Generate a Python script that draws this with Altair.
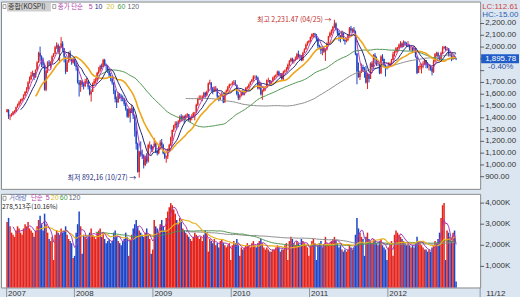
import altair as alt
import pandas as pd
import numpy as np

# ---------------- weekly KOSPI data ----------------
close_2007 = [1470, 1414, 1420, 1425, 1450, 1452, 1490, 1510, 1530, 1545, 1560, 1590, 1620, 1640, 1700, 1730, 1760, 1780, 1743, 1805, 1868, 1950, 1920, 1890, 1850, 1638, 1800, 1870, 1860, 1870, 1920, 1946, 1999, 2015, 1960, 2000, 2030, 1990, 1920, 1790, 1870, 1950, 1900, 1870, 1897]
high_2007 = [1475, 1470, 1430, 1440, 1458, 1465, 1495, 1520, 1545, 1560, 1570, 1600, 1625, 1660, 1710, 1750, 1790, 1800, 1780, 1810, 1880, 1960, 2004, 1930, 1910, 1860, 1810, 1880, 1890, 1880, 1930, 1950, 2010, 2040, 2030, 2010, 2085, 2050, 1990, 1920, 1890, 1960, 1970, 1910, 1905]
low_2007 = [1445, 1390, 1380, 1410, 1420, 1440, 1450, 1485, 1500, 1520, 1540, 1555, 1585, 1610, 1640, 1690, 1720, 1750, 1720, 1740, 1800, 1865, 1880, 1830, 1820, 1630, 1625, 1780, 1840, 1820, 1860, 1915, 1940, 1985, 1940, 1880, 1990, 1960, 1870, 1770, 1790, 1870, 1890, 1850, 1860]
vol_2007 = [3100, 3300, 2900, 2600, 2500, 2400, 2700, 2900, 2800, 2600, 2500, 2800, 3000, 2900, 3100, 2800, 2700, 2600, 2400, 2700, 2900, 3200, 3400, 3000, 2700, 3500, 3000, 2600, 2300, 2200, 2400, 1300, 2500, 2700, 2600, 2500, 2800, 2600, 2700, 2900, 2500, 2300, 2200, 2100, 1400]

close_2008 = [1853, 1830, 1700, 1680, 1711, 1680, 1670, 1710, 1711, 1663, 1600, 1620, 1690, 1710, 1720, 1780, 1800, 1840, 1830, 1890, 1850, 1840, 1800, 1760, 1730, 1700, 1630, 1560, 1530, 1600, 1580, 1570, 1560, 1520, 1474, 1410, 1470, 1440, 1480, 1420, 1290, 1180, 940, 1113, 1090, 1080, 1000, 1070, 1030, 1170, 1170, 1130]
high_2008 = [1900, 1870, 1840, 1720, 1720, 1720, 1700, 1730, 1740, 1720, 1670, 1640, 1700, 1730, 1740, 1790, 1830, 1850, 1860, 1901, 1900, 1860, 1850, 1810, 1780, 1740, 1700, 1640, 1580, 1620, 1610, 1600, 1590, 1570, 1530, 1480, 1480, 1480, 1510, 1490, 1420, 1360, 1190, 1120, 1200, 1130, 1090, 1080, 1100, 1180, 1200, 1175]
low_2008 = [1840, 1800, 1690, 1580, 1620, 1660, 1640, 1660, 1690, 1640, 1590, 1537, 1620, 1680, 1690, 1710, 1770, 1790, 1810, 1830, 1840, 1800, 1780, 1740, 1710, 1680, 1600, 1530, 1483, 1530, 1560, 1540, 1540, 1500, 1460, 1400, 1400, 1360, 1440, 1390, 1240, 1130, 935, 892.16, 1070, 1050, 970, 990, 1010, 1020, 1140, 1110]
vol_2008 = [1500, 2600, 3000, 3600, 2900, 1600, 2500, 2400, 2300, 2500, 2600, 2800, 2500, 2400, 2300, 2600, 2700, 2800, 2400, 2600, 2300, 2100, 2200, 2300, 2100, 2200, 2600, 2700, 2400, 2200, 2100, 2000, 2200, 2300, 2600, 2400, 1500, 2300, 2500, 2800, 3000, 3200, 2900, 2700, 2600, 2500, 2400, 2600, 2800, 2500, 2300, 1600]

close_2009 = [1157, 1180, 1110, 1100, 1160, 1190, 1170, 1100, 1063, 1071, 1127, 1170, 1230, 1297, 1336, 1350, 1340, 1369, 1410, 1390, 1410, 1395, 1420, 1430, 1380, 1400, 1410, 1440, 1440, 1510, 1560, 1570, 1570, 1580, 1610, 1590, 1620, 1690, 1700, 1650, 1630, 1640, 1640, 1580, 1560, 1590, 1600, 1530, 1610, 1630, 1660, 1680, 1682]
high_2009 = [1160, 1230, 1190, 1130, 1170, 1210, 1220, 1180, 1110, 1080, 1140, 1180, 1240, 1300, 1340, 1370, 1370, 1380, 1420, 1430, 1420, 1420, 1430, 1440, 1430, 1410, 1430, 1450, 1450, 1520, 1570, 1590, 1590, 1590, 1620, 1620, 1630, 1700, 1723, 1700, 1660, 1660, 1670, 1650, 1590, 1600, 1620, 1610, 1620, 1640, 1670, 1690, 1690]
low_2009 = [1110, 1150, 1100, 1080, 1090, 1130, 1150, 1090, 1050, 1018, 1050, 1120, 1160, 1200, 1280, 1310, 1300, 1320, 1360, 1370, 1370, 1350, 1380, 1400, 1370, 1360, 1380, 1400, 1378, 1440, 1500, 1550, 1550, 1540, 1570, 1570, 1580, 1620, 1680, 1620, 1600, 1620, 1620, 1560, 1540, 1550, 1580, 1524, 1530, 1600, 1620, 1650, 1670]
vol_2009 = [1800, 3200, 2900, 2800, 2600, 3000, 3200, 2900, 2700, 3300, 3600, 3800, 4000, 3900, 3700, 3500, 3200, 3000, 3300, 3100, 2800, 2700, 2600, 2500, 2400, 2300, 2200, 2400, 2600, 2500, 2400, 2300, 2400, 2200, 2500, 2700, 2600, 1700, 2300, 2200, 2100, 2300, 2000, 2100, 1900, 2200, 2300, 2100, 2000, 1900, 2000, 2100, 1300]

close_2010 = [1695, 1700, 1680, 1602, 1570, 1590, 1620, 1594, 1620, 1655, 1660, 1680, 1705, 1720, 1750, 1750, 1740, 1650, 1690, 1600, 1630, 1660, 1660, 1720, 1720, 1690, 1710, 1740, 1750, 1760, 1790, 1760, 1775, 1730, 1790, 1800, 1810, 1850, 1880, 1900, 1880, 1890, 1900, 1940, 1920, 1930, 1890, 1950, 1980, 2020, 2040, 2051]
high_2010 = [1710, 1720, 1720, 1680, 1620, 1600, 1630, 1640, 1630, 1660, 1670, 1690, 1710, 1730, 1760, 1760, 1760, 1750, 1700, 1690, 1640, 1670, 1670, 1725, 1740, 1720, 1715, 1750, 1760, 1770, 1800, 1800, 1780, 1780, 1800, 1810, 1830, 1860, 1890, 1910, 1910, 1900, 1920, 1950, 1970, 1940, 1930, 1960, 1990, 2030, 2050, 2060]
low_2010 = [1680, 1680, 1670, 1590, 1550, 1552, 1580, 1590, 1590, 1610, 1640, 1650, 1680, 1700, 1710, 1730, 1720, 1640, 1640, 1590, 1552, 1620, 1630, 1660, 1700, 1680, 1680, 1700, 1720, 1740, 1760, 1750, 1740, 1720, 1720, 1780, 1790, 1810, 1840, 1870, 1860, 1860, 1880, 1890, 1910, 1890, 1880, 1880, 1950, 1980, 2010, 2030]
vol_2010 = [2000, 2200, 2100, 2300, 2000, 1500, 1900, 1800, 1900, 2000, 2100, 2000, 1900, 2100, 2200, 2000, 1900, 2100, 2200, 2300, 2100, 1900, 1800, 1900, 1800, 1700, 1700, 1800, 1800, 1900, 2000, 1900, 1700, 1800, 1800, 2000, 2100, 1300, 2200, 2400, 2300, 2100, 2000, 2200, 2100, 2000, 2300, 2200, 2100, 2000, 1900, 1500]

close_2011 = [2086, 2110, 2115, 2107, 2070, 2010, 2000, 1970, 1990, 1960, 1980, 2030, 2090, 2120, 2140, 2170, 2200, 2150, 2120, 2100, 2080, 2120, 2060, 2050, 2060, 2100, 2160, 2140, 2150, 2130, 1943, 1793, 1745, 1790, 1830, 1810, 1800, 1700, 1770, 1730, 1860, 1830, 1930, 1900, 1860, 1870, 1780, 1920, 1900, 1840, 1830, 1826]
high_2011 = [2090, 2115, 2120, 2120, 2110, 2080, 2020, 2010, 2000, 2000, 1990, 2040, 2095, 2130, 2150, 2180, 2231.47, 2210, 2160, 2140, 2100, 2140, 2120, 2070, 2080, 2110, 2170, 2180, 2160, 2170, 2140, 1950, 1870, 1800, 1860, 1850, 1830, 1840, 1780, 1770, 1870, 1880, 1940, 1950, 1920, 1890, 1870, 1930, 1940, 1900, 1850, 1840]
low_2011 = [2040, 2070, 2080, 2080, 2050, 1990, 1980, 1940, 1930, 1950, 1882, 1970, 2020, 2080, 2100, 2120, 2160, 2140, 2100, 2050, 2040, 2080, 2050, 2020, 2040, 2050, 2100, 2120, 2120, 2120, 1930, 1684, 1740, 1720, 1780, 1790, 1740, 1690, 1644, 1700, 1730, 1800, 1820, 1860, 1840, 1840, 1770, 1770, 1880, 1830, 1750, 1810]
vol_2011 = [2000, 2200, 2300, 2100, 1300, 2000, 2100, 2200, 1900, 2000, 2400, 2100, 2000, 2100, 2200, 2300, 2400, 2200, 2100, 1900, 2000, 1800, 1700, 1800, 1700, 1800, 2000, 1900, 1800, 1900, 2500, 3300, 2800, 2600, 2400, 2300, 1500, 2400, 2600, 2300, 2200, 2100, 2300, 2200, 2100, 2000, 2200, 2300, 2000, 1900, 1800, 1300]

close_2012 = [1843, 1860, 1890, 1940, 1960, 1990, 1990, 2020, 2030, 2000, 2040, 2030, 2014, 2020, 1990, 1990, 1980, 1990, 1920, 1780, 1830, 1840, 1850, 1860, 1890, 1850, 1830, 1830, 1820, 1790, 1880, 1940, 1950, 1920, 1900, 1950, 1990, 2000, 1990, 1990, 1930, 1940, 1910, 1920, 1903.4, 1895.78]
high_2012 = [1870, 1870, 1900, 1960, 1970, 2000, 2000, 2030, 2050, 2040, 2057, 2050, 2040, 2050, 2020, 2010, 2000, 2010, 1990, 1920, 1840, 1860, 1860, 1880, 1900, 1890, 1870, 1850, 1850, 1830, 1890, 1950, 1960, 1960, 1930, 1960, 2007, 2010, 2010, 2000, 1990, 1960, 1950, 1930, 1930, 1905]
low_2012 = [1820, 1830, 1850, 1890, 1920, 1950, 1960, 1980, 2000, 1990, 2000, 2010, 2000, 2000, 1970, 1970, 1960, 1950, 1910, 1770, 1780, 1810, 1776, 1820, 1850, 1820, 1820, 1800, 1800, 1760, 1780, 1870, 1920, 1910, 1880, 1880, 1940, 1980, 1970, 1970, 1920, 1920, 1880, 1890, 1900, 1890]
vol_2012 = [1900, 2100, 2200, 1500, 2500, 2700, 2600, 2500, 2400, 2300, 2200, 2100, 2000, 2100, 2000, 1900, 2000, 1900, 2100, 2400, 2200, 2100, 2000, 1900, 1800, 1800, 1700, 1800, 1700, 1900, 2000, 2200, 2100, 2300, 2600, 3300, 3900, 4000, 1300, 2700, 2600, 2400, 2200, 2600, 2700, 278.5]

first_open = 1450

# annotations / header values
ann_labels = ["최고 2,231.47 (04/25) →", "최저 892,16 (10/27) →"]
ann_values = [2231.47, 892.16]
ann_dates = ["2011-04-27", "2008-10-29"]
ann_colors = ["#c0302c", "#1c2c84"]
lc_text = "LC:112.61"
hc_text = "HC:-15.00"
change_text = "-0.40%"
vol_text = "278,513주(10.16%)"
date_text = "11/12"
price_ticks = [900, 1000, 1100, 1200, 1300, 1400, 1500, 1600, 1700, 1800, 1900, 2000, 2100, 2200, 2300]
price_labels = [900, 1000, 1100, 1200, 1300, 1400, 1500, 1600, 1700, 2000, 2100, 2200]
vol_ticks = [1000, 2000, 3000, 4000]
year_dates = ["2007-02-19", "2008-01-01", "2009-01-01", "2010-01-01", "2011-01-01", "2012-01-01"]
year_labels = ["2007", "2008", "2009", "2010", "2011", "2012"]

# ---------------- table ----------------
closes = close_2007 + close_2008 + close_2009 + close_2010 + close_2011 + close_2012
highs = high_2007 + high_2008 + high_2009 + high_2010 + high_2011 + high_2012
lows = low_2007 + low_2008 + low_2009 + low_2010 + low_2011 + low_2012
volumes = vol_2007 + vol_2008 + vol_2009 + vol_2010 + vol_2011 + vol_2012
opens = [first_open] + closes[:-1]
weeks = pd.date_range("2007-02-19", periods=len(closes), freq="7D") + pd.Timedelta(days=2)
df = pd.DataFrame({"date": weeks, "open": opens, "high": highs, "low": lows,
                   "close": closes, "volume": volumes})
df["dir"] = np.where(df["close"] >= df["open"], "up", "down")

RED, BLUE = "#e3231c", "#1d45c6"
VRED, VBLUE = "#d62422", "#2a4cbf"
KFONT = "Noto Sans CJK KR"
NFONT = "Liberation Sans"
GRID = "#d4d4d4"
AXC = "#333333"

W, H1, H2 = 481, 188, 94
x_scale = alt.Scale(domain=[alt.DateTime(year=2007, month=2, date=16),
                            alt.DateTime(year=2013, month=2, date=11)])
year_ticks = [alt.DateTime(year=2007, month=2, date=19)] + [
    alt.DateTime(year=y, month=1, date=1) for y in range(2008, 2013)]
price_scale = alt.Scale(domain=[797, 2386], nice=False, zero=False)
vol_scale = alt.Scale(domain=[0, 4440], nice=False, zero=True)
cscale = alt.Scale(domain=["up", "down"], range=[RED, BLUE])
vcscale = alt.Scale(domain=["up", "down"], range=[VRED, VBLUE])

X0 = alt.X("date:T", scale=x_scale, axis=None)
xgrid_axis = alt.Axis(values=year_ticks, labels=False, ticks=False, domain=False,
                      grid=True, gridColor=GRID, title=None)


def ygrid_axis(vals):
    return alt.Axis(values=vals, labels=False, ticks=False, domain=False,
                    grid=True, gridColor=GRID, title=None)


def label(txt, x, y, color, size=7, font=KFONT, align="left"):
    return alt.Chart(pd.DataFrame({"t": [txt]})).mark_text(
        align=align, baseline="middle", font=font, fontSize=size, color=color).encode(
        x=alt.value(x), y=alt.value(y), text="t:N")


def box(x, x2, y, y2, fill, stroke=None):
    kw = {"color": fill}
    if stroke:
        kw = {"fill": fill, "stroke": stroke, "strokeWidth": 0.8}
    return alt.Chart(pd.DataFrame({"a": [0]})).mark_rect(**kw).encode(
        x=alt.value(x), x2=alt.value(x2), y=alt.value(y), y2=alt.value(y2))


def axis_labels(vals, scale, fmt_expr, x=486):
    return alt.Chart(pd.DataFrame({"v": vals})).transform_calculate(t=fmt_expr).mark_text(
        align="left", baseline="middle", font=NFONT, fontSize=8, color=AXC).encode(
        x=alt.value(x), y=alt.Y("v:Q", scale=scale, axis=None), text="t:N")


def axis_ticks(vals, scale):
    return alt.Chart(pd.DataFrame({"v": vals})).mark_rule(color="#556070", strokeWidth=1).encode(
        x=alt.value(481), x2=alt.value(485), y=alt.Y("v:Q", scale=scale, axis=None))


# ---------------- price panel ----------------
base = alt.Chart(df)

wick = base.mark_rule(strokeWidth=1).encode(
    x=alt.X("date:T", scale=x_scale, axis=xgrid_axis),
    y=alt.Y("low:Q", scale=price_scale, axis=ygrid_axis(price_ticks)), y2="high:Q",
    color=alt.Color("dir:N", scale=cscale, legend=None))
body = base.mark_bar(size=1.4).encode(
    x=X0, y=alt.Y("open:Q", scale=price_scale, axis=None), y2="close:Q",
    color=alt.Color("dir:N", scale=cscale, legend=None))

ma_defs = [(120, "#8c8c8c", 1.0), (60, "#4f9450", 1.0), (20, "#eda61a", 1.6),
           (10, "#1e2a74", 1.0), (5, "#b33fb8", 1.0)]
ma_layers = []
for n, col, w in ma_defs:
    ma_layers.append(base.transform_window(
        ma="mean(close)", cnt="count()", frame=[-(n - 1), 0],
        sort=[alt.SortField("date")]).transform_filter(
        f"datum.cnt >= {n}").mark_line(color=col, strokeWidth=w).encode(
        x=X0, y=alt.Y("ma:Q", scale=price_scale, axis=None)))

ann_df = pd.DataFrame({"date": pd.to_datetime(ann_dates), "v": ann_values,
                       "t": ann_labels, "c": ann_colors})
ann = alt.Chart(ann_df).mark_text(align="right", baseline="middle", dx=-3,
                                  font=KFONT, fontSize=7).encode(
    x=X0, y=alt.Y("v:Q", scale=price_scale, axis=None), text="t:N",
    color=alt.Color("c:N", scale=None))

cur_df = pd.DataFrame({"v": [closes[-1]], "t": [f"{closes[-1]:,.2f}"]})
cur_box = alt.Chart(cur_df).mark_rect(color="#1f5cc8", yOffset=-5, y2Offset=4).encode(
    x=alt.value(482), x2=alt.value(520),
    y=alt.Y("v:Q", scale=price_scale, axis=None), y2="v:Q")
cur_txt = alt.Chart(cur_df).mark_text(align="left", baseline="middle", font=NFONT,
                                      fontSize=8, color="white", dy=-0.5).encode(
    x=alt.value(486), y=alt.Y("v:Q", scale=price_scale, axis=None), text="t:N")
chg_txt = alt.Chart(pd.DataFrame({"v": [closes[-1]], "t": [change_text]})).mark_text(
    align="left", baseline="middle", font=NFONT, fontSize=8, color="#1f4a9a", dy=8).encode(
    x=alt.value(489), y=alt.Y("v:Q", scale=price_scale, axis=None), text="t:N")

p_ticks = axis_ticks(price_ticks[:-1], price_scale)
p_labels = axis_labels(price_labels, price_scale, "format(datum.v, ',.2f')")

header = [
    box(2, 5, 3, 7, "white", "#888"),
    box(6, 50, 1, 10, "#cfcfcf"),
    label("종합(KOSPI)", 7, 5.5, "#333"),
    box(52, 55, 3, 7, "white", "#888"),
    label("종가 단순", 57, 5.5, "#b03cae", size=6.5),
    label("5", 88, 5.5, "#b03cae", font=NFONT),
    label("10", 94, 5.5, "#1e2a74", font=NFONT),
    label("20", 106, 5.5, "#d8be2a", font=NFONT),
    label("60", 117, 5.5, "#3f9a45", font=NFONT),
    label("120", 127, 5.5, "#5a6478", font=NFONT),
    label(lc_text, 483, 5, "#cc4444", font=NFONT, size=8),
    label(hc_text, 483, 13, "#2a5cae", font=NFONT, size=8),
]

price = alt.layer(wick, body, *ma_layers, ann, p_ticks, p_labels,
                  cur_box, cur_txt, chg_txt, *header).properties(width=W, height=H1)

# ---------------- volume panel ----------------
vbars = base.mark_bar(size=1.5).encode(
    x=alt.X("date:T", scale=x_scale, axis=xgrid_axis),
    y=alt.Y("volume:Q", scale=vol_scale, axis=ygrid_axis(vol_ticks)),
    color=alt.Color("dir:N", scale=vcscale, legend=None))

vma_defs = [(120, "#8c8c8c", 1.0), (60, "#4f9450", 1.0), (20, "#e6b21f", 1.2), (5, "#a63bb5", 1.0)]
vma_layers = []
for n, col, w in vma_defs:
    vma_layers.append(base.transform_window(
        ma="mean(volume)", cnt="count()", frame=[-(n - 1), 0],
        sort=[alt.SortField("date")]).transform_filter(
        f"datum.cnt >= {n}").mark_line(color=col, strokeWidth=w).encode(
        x=X0, y=alt.Y("ma:Q", scale=vol_scale, axis=None)))

v_ticks = axis_ticks(vol_ticks, vol_scale)
v_labels = axis_labels(vol_ticks, vol_scale, "format(datum.v, ',') + 'K'")

yr_df = pd.DataFrame({"d": pd.to_datetime(year_dates), "t": year_labels})
yr_ticks = alt.Chart(yr_df).mark_rule(color="#8a96a6", strokeWidth=1).encode(
    x=alt.X("d:T", scale=x_scale, axis=None), y=alt.value(H2), y2=alt.value(H2 + 12))
yr_text = alt.Chart(yr_df).mark_text(align="left", baseline="middle", dx=1.5, font=NFONT,
                                     fontSize=8, color=AXC).encode(
    x=alt.X("d:T", scale=x_scale, axis=None), y=alt.value(H2 + 6.5), text="t:N")
band_sep = alt.Chart(pd.DataFrame({"a": [0]})).mark_rule(color="#8a96a6").encode(
    x=alt.value(481), y=alt.value(H2), y2=alt.value(H2 + 12))

vheader = [
    box(2, 5, 2.5, 6.5, "white", "#888"),
    label("거래량", 8, 4.5, "#5a6cb4", size=6.5),
    label("단순", 30, 4.5, "#b03cae", size=6.5),
    label("5", 45, 4.5, "#b03cae", font=NFONT),
    label("20", 50, 4.5, "#d8be2a", font=NFONT),
    label("60", 59, 4.5, "#3f9a45", font=NFONT),
    label("120", 68, 4.5, "#5a6478", font=NFONT),
    label(vol_text, 1, 13.5, "#222", size=6.5),
    label(date_text, 487, H2 + 6.5, AXC, font=NFONT, size=8),
]

volume = alt.layer(vbars, *vma_layers, v_ticks, v_labels, yr_ticks, yr_text, band_sep,
                   *vheader).properties(width=W, height=H2)

chart = alt.vconcat(price, volume, spacing=3).properties(
    padding={"left": 0, "top": 0, "right": 0, "bottom": 0}
).configure(background="#dce6f1").configure_view(fill="white", stroke="#8a8a8a", strokeWidth=1)

chart.save("out.html", embed_options={"renderer": "svg", "actions": False})
